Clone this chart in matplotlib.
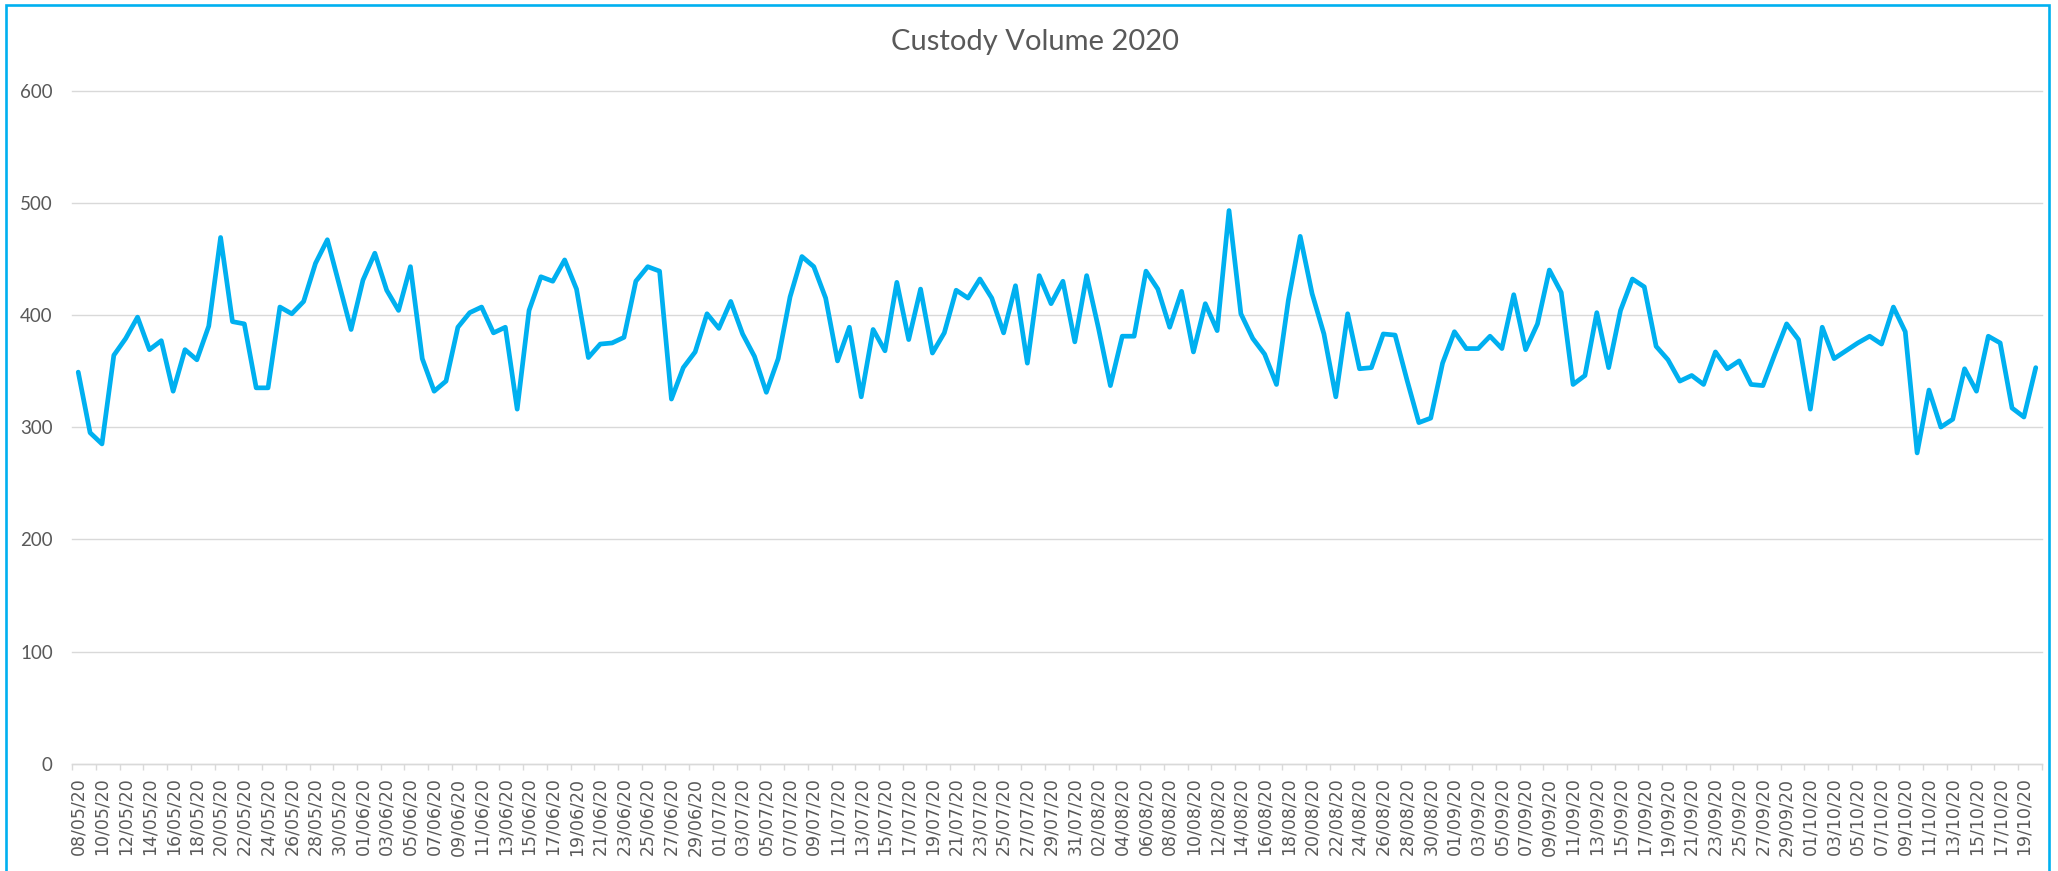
import matplotlib
matplotlib.use("Agg")
import matplotlib.pyplot as plt
import matplotlib.patches as mpatches
import numpy as np
import pandas as pd

# ---- data ----
dates = pd.date_range("2020-05-08", periods=166, freq="D")
date_labels = [d.strftime("%d/%m/%y") for d in dates]

volume = [
    349, 295, 285, 364, 379, 398, 369, 377, 332, 369,
    360, 390, 469, 394, 392, 335, 335, 407, 401, 412,
    446, 467, 427, 387, 431, 455, 422, 404, 443, 361,
    332, 341, 389, 402, 407, 384, 389, 316, 404, 434,
    430, 449, 423, 362, 374, 375, 380, 430, 443, 439,
    325, 353, 367, 401, 388, 412, 383, 363, 331, 361,
    416, 452, 443, 415, 359, 389, 327, 387, 368, 429,
    378, 423, 366, 384, 422, 415, 432, 415, 384, 426,
    357, 435, 410, 430, 376, 435, 388, 337, 381, 381,
    439, 423, 389, 421, 367, 410, 386, 493, 401, 379,
    365, 338, 413, 470, 419, 383, 327, 401, 352, 353,
    383, 382, 342, 304, 308, 357, 385, 370, 370, 381,
    370, 418, 369, 392, 440, 420, 338, 346, 402, 353,
    404, 432, 425, 372, 360, 341, 346, 338, 367, 352,
    359, 338, 337, 365, 392, 378, 316, 389, 361, 368,
    375, 381, 374, 407, 385, 277, 333, 300, 307, 352,
    332, 381, 375, 317, 309, 353,
]

y_ticks = [0, 100, 200, 300, 400, 500, 600]
title = "Custody Volume 2020"

# ---- styling ----
LINE_C = "#00B0F0"
GRID_C = "#D9D9D9"
TEXT_C = "#595959"

W, H = 2058, 871
fig = plt.figure(figsize=(W / 100, H / 100), dpi=100)
fig.patch.set_facecolor("white")

left, right = 72.3, 2041.7
bottom, top = 107.3, 780.5
ax = fig.add_axes([left / W, bottom / H, (right - left) / W, (top - bottom) / H])

x = np.arange(len(volume))
ax.plot(x, volume, color=LINE_C, lw=3.4, solid_joinstyle="round",
        solid_capstyle="round", zorder=3)

ax.set_xlim(-0.5, len(volume) - 0.5)
ax.set_ylim(y_ticks[0], y_ticks[-1])

# y axis
ax.set_yticks(y_ticks)
ax.set_yticklabels([str(v) for v in y_ticks], fontsize=13.5, color=TEXT_C,
                   family=["Lato", "DejaVu Sans"])
ax.tick_params(axis="y", length=0, pad=14)
ax.yaxis.grid(True, color=GRID_C, lw=1.0)
for gl in ax.get_ygridlines():
    gl.set_clip_on(False)
ax.set_axisbelow(True)

# x axis
major_pos = x[::2]
ax.set_xticks(major_pos)
ax.set_xticklabels([date_labels[i] for i in major_pos], rotation=90,
                   fontsize=12.5, color=TEXT_C, family=["DejaVu Sans"])
ax.set_xticks(np.arange(-0.5, len(volume), 2), minor=True)
ax.tick_params(axis="x", which="major", length=0, pad=10)
ax.tick_params(axis="x", which="minor", length=4.3, width=1.0, color=GRID_C,
               direction="out")

for s in ["top", "right", "left"]:
    ax.spines[s].set_visible(False)
ax.spines["bottom"].set_color(GRID_C)
ax.spines["bottom"].set_linewidth(1.0)

# title
fig.text(1035 / W, 1 - 50 / H, title, ha="center", va="baseline",
         fontsize=21, color=TEXT_C, family=["Lato", "DejaVu Sans"])

# chart-area border (bottom edge lies outside the image)
rect = mpatches.Rectangle((5.7 / W, -0.2), (2049.5 - 5.7) / W, 1.2 - 5.3 / H,
                          transform=fig.transFigure, fill=False,
                          ec=LINE_C, lw=1.9, clip_on=False)
fig.patches.append(rect)

fig.savefig("out.png", dpi=100, facecolor="white")
